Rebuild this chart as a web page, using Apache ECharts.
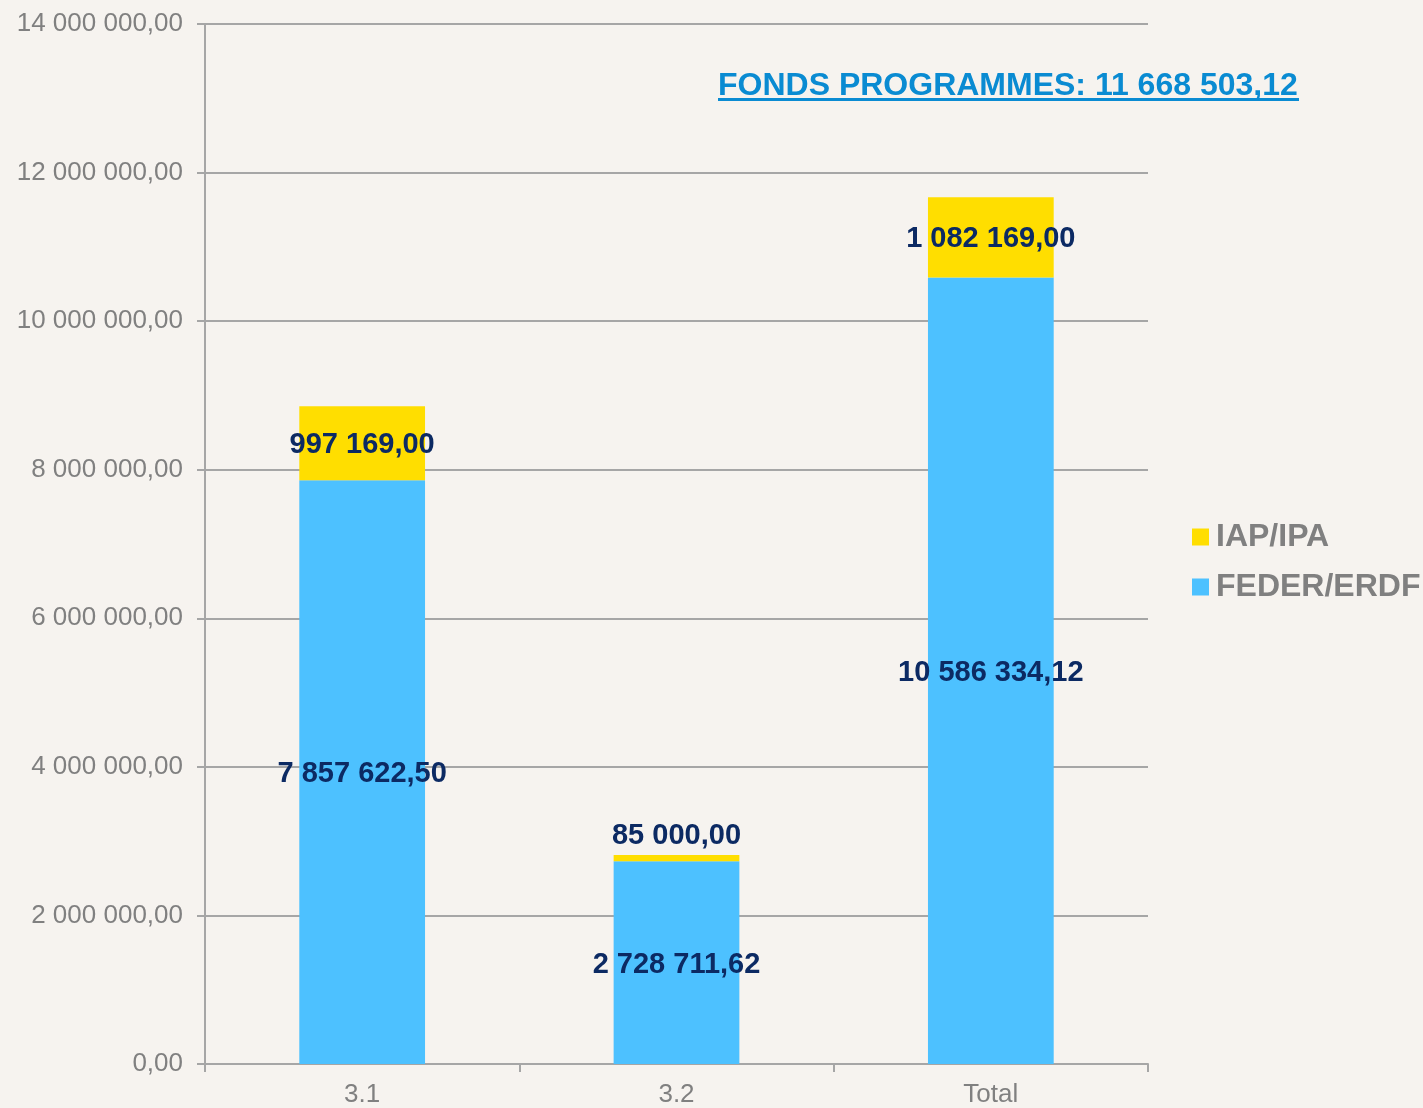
<!DOCTYPE html>
<html>
<head>
<meta charset="utf-8">
<script src="https://cdn.jsdelivr.net/npm/echarts@6/dist/echarts.min.js"></script>
<style>
  html, body { margin: 0; padding: 0; background: #f6f3ef; }
  #main { width: 1423px; height: 1108px; }
</style>
</head>
<body>
<div id="main"></div>
<script>
var categories = ['3.1', '3.2', 'Total'];
var federValues = [7857622.50, 2728711.62, 10586334.12];
var iapValues = [997169.00, 85000.00, 1082169.00];
var iapLabelPos = ['inside', 'top', 'inside'];
var titleText = 'FONDS PROGRAMMES: 11 668 503,12';

// format 1234567.5 -> "1 234 567,50"
function frNum(v) {
    var parts = Number(v).toFixed(2).split('.');
    return parts[0].replace(/\B(?=(\d{3})+(?!\d))/g, ' ') + ',' + parts[1];
}

var myChart = echarts.init(document.getElementById('main'));

var labelStyle = {
    show: true,
    color: '#0c2a63',
    fontFamily: 'Liberation Sans, Arial, sans-serif',
    fontWeight: 'bold',
    fontSize: 29,
    offset: [0, 2],
    formatter: function (p) { return frNum(p.value); }
};

var option = {
    backgroundColor: '#f6f3ef',
    animation: false,
    textStyle: { fontFamily: 'Liberation Sans, Arial, sans-serif' },
    title: {
        text: titleText,
        left: 718,
        top: 70,
        padding: 0,
        textStyle: {
            color: '#0a8bd2',
            fontSize: 32,
            fontWeight: 'bold',
            fontFamily: 'Liberation Sans, Arial, sans-serif'
        }
    },
    graphic: [{
        type: 'rect',
        left: 718,
        top: 98,
        shape: { width: 581, height: 3 },
        style: { fill: '#0a8bd2' }
    }],
    legend: {
        data: ['IAP/IPA', 'FEDER/ERDF'],
        orient: 'vertical',
        left: 1192,
        top: 521,
        padding: 0,
        itemWidth: 17,
        itemHeight: 17,
        itemGap: 18,
        icon: 'rect',
        selectedMode: false,
        textStyle: {
            color: '#808080',
            fontSize: 32,
            fontWeight: 'bold',
            padding: [0, 0, 0, 2]
        }
    },
    grid: {
        left: 205,
        right: 275,
        top: 24,
        bottom: 42,
        containLabel: false
    },
    xAxis: {
        type: 'category',
        data: categories,
        axisLine: { lineStyle: { color: '#a6a6a6', width: 2 } },
        axisTick: { show: true, length: 8, lineStyle: { color: '#a6a6a6', width: 2 } },
        axisLabel: { color: '#808080', fontSize: 26, margin: 18 }
    },
    yAxis: {
        type: 'value',
        min: 0,
        max: 14000000,
        interval: 2000000,
        axisLine: { show: true, lineStyle: { color: '#a6a6a6', width: 2 } },
        axisTick: { show: true, length: 8, lineStyle: { color: '#a6a6a6', width: 2 } },
        splitLine: { lineStyle: { color: '#a6a6a6', width: 2 } },
        axisLabel: {
            color: '#808080',
            fontSize: 26,
            margin: 22,
            formatter: function (v) { return frNum(v); }
        }
    },
    series: [{
        name: 'FEDER/ERDF',
        type: 'bar',
        stack: 'total',
        barWidth: '40%',
        itemStyle: { color: '#4dc1ff' },
        label: Object.assign({}, labelStyle, { position: 'inside' }),
        emphasis: { disabled: true },
        data: federValues
    }, {
        name: 'IAP/IPA',
        type: 'bar',
        stack: 'total',
        barWidth: '40%',
        itemStyle: { color: '#ffde00' },
        emphasis: { disabled: true },
        label: labelStyle,
        data: iapValues.map(function (v, i) {
            return { value: v, label: { position: iapLabelPos[i], distance: 6 } };
        })
    }]
};

myChart.setOption(option);
</script>
</body>
</html>
